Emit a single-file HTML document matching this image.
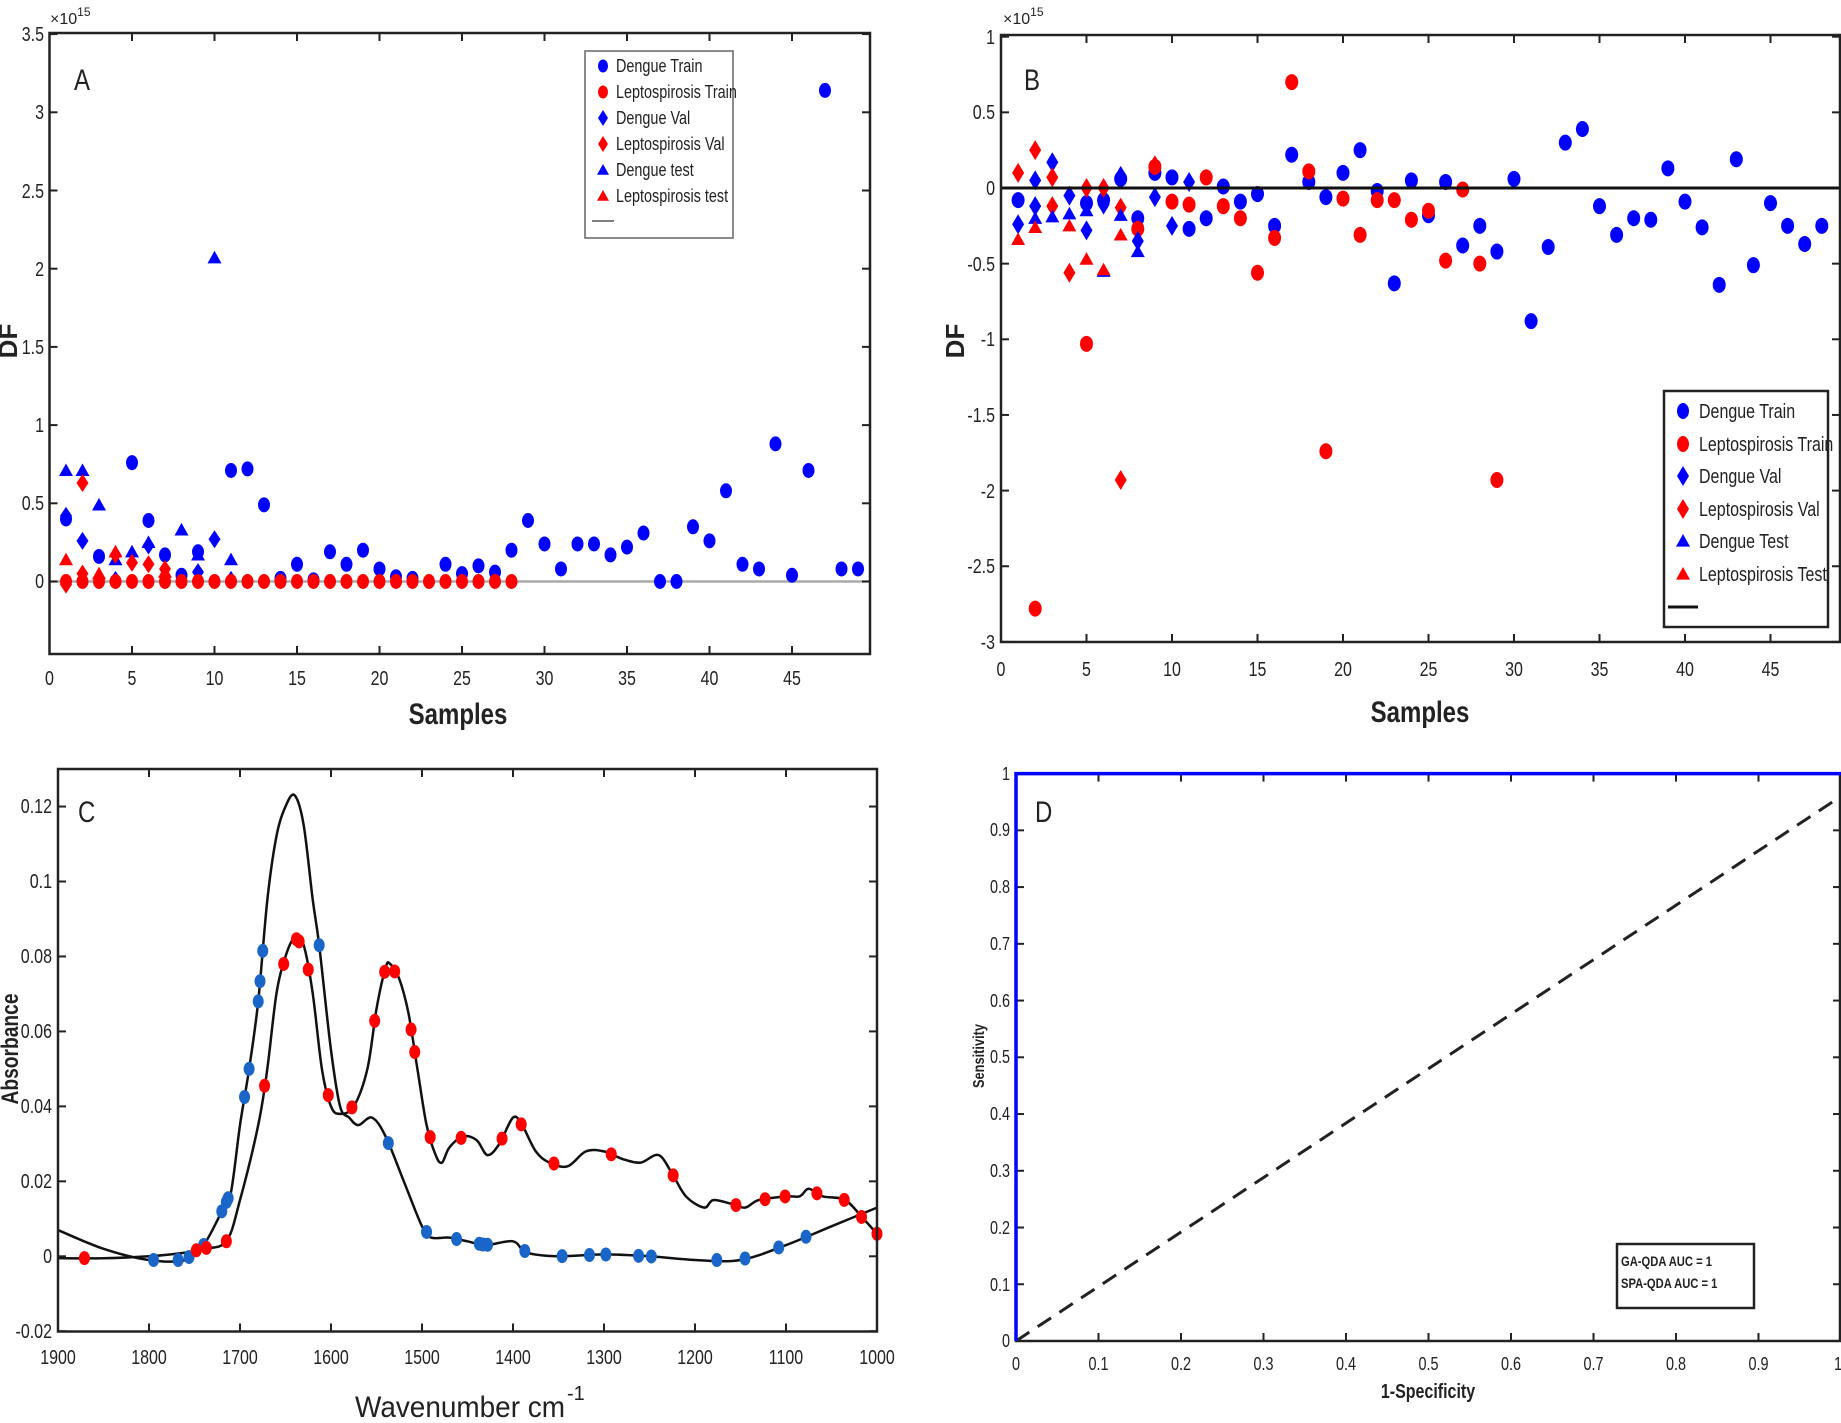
<!DOCTYPE html>
<html><head><meta charset="utf-8">
<style>
html,body{margin:0;padding:0;background:#fff}
svg{display:block}
text{font-family:"Liberation Sans Narrow","Liberation Sans",Arial,sans-serif;fill:#222}
.t{font-size:20px}
.ts{font-size:18px}
.lg{font-size:18px}
.lgb{font-size:20px}
.ttl{font-size:30px;font-weight:bold}
</style></head><body>
<svg id="s" width="1841" height="1423" viewBox="0 0 1841 1423" xmlns="http://www.w3.org/2000/svg">
<rect width="1841" height="1423" fill="#fff"/>
<g id="g"></g>
<!-- Panel A texts -->
<text x="50" y="24" style="font-size:16px">×10<tspan dy="-8" style="font-size:12px">15</tspan></text>
<text class="c" x="74" y="90" style="font-size:30px">A</text>
<g class="t" text-anchor="end">
<text class="c" x="44" y="588">0</text><text class="c" x="44" y="510">0.5</text><text class="c" x="44" y="432">1</text><text class="c" x="44" y="354">1.5</text><text class="c" x="44" y="276">2</text><text class="c" x="44" y="198">2.5</text><text class="c" x="44" y="119">3</text><text class="c" x="44" y="41">3.5</text>
</g>
<g class="t" text-anchor="middle">
<text class="c" x="49.5" y="685">0</text><text class="c" x="132" y="685">5</text><text class="c" x="214.5" y="685">10</text><text class="c" x="297" y="685">15</text><text class="c" x="379.5" y="685">20</text><text class="c" x="462" y="685">25</text><text class="c" x="544.5" y="685">30</text><text class="c" x="627" y="685">35</text><text class="c" x="709.5" y="685">40</text><text class="c" x="792" y="685">45</text>
</g>
<text class="ttl c" x="458" y="724" text-anchor="middle">Samples</text>
<text transform="translate(17,341) rotate(-90)" text-anchor="middle" style="font-family:'Liberation Sans',sans-serif;font-size:26px;font-weight:bold">DF</text>
<g class="lg">
<text class="c" x="616" y="72">Dengue Train</text><text class="c" x="616" y="98">Leptospirosis Train</text><text class="c" x="616" y="124">Dengue Val</text><text class="c" x="616" y="150">Leptospirosis Val</text><text class="c" x="616" y="176">Dengue test</text><text class="c" x="616" y="202">Leptospirosis test</text>
</g>
<!-- Panel B texts -->
<text x="1003" y="24" style="font-size:16px">×10<tspan dy="-8" style="font-size:12px">15</tspan></text>
<text class="c" x="1024" y="90" style="font-size:30px">B</text>
<g class="t" text-anchor="end">
<text class="c" x="995" y="44">1</text><text class="c" x="995" y="119">0.5</text><text class="c" x="995" y="195">0</text><text class="c" x="995" y="271">-0.5</text><text class="c" x="995" y="346">-1</text><text class="c" x="995" y="422">-1.5</text><text class="c" x="995" y="498">-2</text><text class="c" x="995" y="573">-2.5</text><text class="c" x="995" y="649">-3</text>
</g>
<g class="t" text-anchor="middle">
<text class="c" x="1001" y="676">0</text><text class="c" x="1086.5" y="676">5</text><text class="c" x="1172" y="676">10</text><text class="c" x="1257.5" y="676">15</text><text class="c" x="1343" y="676">20</text><text class="c" x="1428.5" y="676">25</text><text class="c" x="1514" y="676">30</text><text class="c" x="1599.5" y="676">35</text><text class="c" x="1685" y="676">40</text><text class="c" x="1770.5" y="676">45</text>
</g>
<text class="ttl c" x="1420" y="722" text-anchor="middle">Samples</text>
<text transform="translate(964,341) rotate(-90)" text-anchor="middle" style="font-family:'Liberation Sans',sans-serif;font-size:26px;font-weight:bold">DF</text>
<g class="lgb">
<text class="c" x="1699" y="418">Dengue Train</text><text class="c" x="1699" y="451">Leptospirosis Train</text><text class="c" x="1699" y="483">Dengue Val</text><text class="c" x="1699" y="516">Leptospirosis Val</text><text class="c" x="1699" y="548">Dengue Test</text><text class="c" x="1699" y="581">Leptospirosis Test</text>
</g>
<!-- Panel C texts -->
<text class="c" x="78" y="822" style="font-size:30px">C</text>
<g class="t" text-anchor="end">
<text class="c" x="52" y="813">0.12</text><text class="c" x="52" y="888">0.1</text><text class="c" x="52" y="963">0.08</text><text class="c" x="52" y="1038">0.06</text><text class="c" x="52" y="1113">0.04</text><text class="c" x="52" y="1188">0.02</text><text class="c" x="52" y="1263">0</text><text class="c" x="52" y="1338">-0.02</text>
</g>
<g class="t" text-anchor="middle">
<text class="c" x="58" y="1364">1900</text><text class="c" x="149" y="1364">1800</text><text class="c" x="240" y="1364">1700</text><text class="c" x="331" y="1364">1600</text><text class="c" x="422" y="1364">1500</text><text class="c" x="513" y="1364">1400</text><text class="c" x="604" y="1364">1300</text><text class="c" x="695" y="1364">1200</text><text class="c" x="786" y="1364">1100</text><text class="c" x="877" y="1364">1000</text>
</g>
<text x="460" y="1417" text-anchor="middle" style="font-size:30px" textLength="210" lengthAdjust="spacingAndGlyphs">Wavenumber cm</text>
<text x="567" y="1400" style="font-size:20px">-1</text>
<text class="c" transform="translate(18,1049) rotate(-90)" text-anchor="middle" style="font-family:'Liberation Sans',sans-serif;font-size:24px;font-weight:bold">Absorbance</text>
<!-- Panel D texts -->
<text class="c" x="1035" y="822" style="font-size:30px">D</text>
<g class="ts" text-anchor="end">
<text class="c" x="1010" y="1347">0</text><text class="c" x="1010" y="1291">0.1</text><text class="c" x="1010" y="1234">0.2</text><text class="c" x="1010" y="1177">0.3</text><text class="c" x="1010" y="1120">0.4</text><text class="c" x="1010" y="1063">0.5</text><text class="c" x="1010" y="1007">0.6</text><text class="c" x="1010" y="950">0.7</text><text class="c" x="1010" y="893">0.8</text><text class="c" x="1010" y="836">0.9</text><text class="c" x="1010" y="780">1</text>
</g>
<g class="ts" text-anchor="middle">
<text class="c" x="1016" y="1370">0</text><text class="c" x="1098.5" y="1370">0.1</text><text class="c" x="1181" y="1370">0.2</text><text class="c" x="1263.5" y="1370">0.3</text><text class="c" x="1346" y="1370">0.4</text><text class="c" x="1428.5" y="1370">0.5</text><text class="c" x="1511" y="1370">0.6</text><text class="c" x="1593.5" y="1370">0.7</text><text class="c" x="1676" y="1370">0.8</text><text class="c" x="1758.5" y="1370">0.9</text><text class="c" x="1838" y="1370">1</text>
</g>
<text class="c" x="1428" y="1398" text-anchor="middle" style="font-size:20px;font-weight:bold">1-Specificity</text>
<text class="c" transform="translate(984,1056) rotate(-90)" text-anchor="middle" style="font-family:'Liberation Sans',sans-serif;font-size:16px;font-weight:bold">Sensitivity</text>
<text class="c" x="1621" y="1266" style="font-size:14px;font-weight:bold">GA-QDA   AUC  = 1</text>
<text class="c" x="1621" y="1288" style="font-size:14px;font-weight:bold">SPA-QDA AUC =  1</text>
</svg>
<script>
var g=document.getElementById('g'),NS='http://www.w3.org/2000/svg';
function el(t,a){var e=document.createElementNS(NS,t);for(var k in a)e.setAttribute(k,a[k]);g.appendChild(e);return e;}
var B='#0000ff',R='#ff0000';
function circ(x,y,c,rx,ry){el('ellipse',{cx:x,cy:y,rx:rx||6,ry:ry||7.5,fill:c});}
function dia(x,y,c,w,h){w=w||6;h=h||9;el('polygon',{points:(x)+','+(y-h)+' '+(x+w)+','+y+' '+x+','+(y+h)+' '+(x-w)+','+y,fill:c});}
function tri(x,y,c,s){s=s||7;el('polygon',{points:x+','+(y-s)+' '+(x+s)+','+(y+s*0.8)+' '+(x-s)+','+(y+s*0.8),fill:c});}
function frame(x0,y0,x1,y1,col){el('rect',{x:x0,y:y0,width:x1-x0,height:y1-y0,fill:'none',stroke:col||'#222','stroke-width':2.5});}
function ticks(xs,ys,x0,y0,x1,y1){xs.forEach(function(x){el('line',{x1:x,y1:y1,x2:x,y2:y1-8,stroke:'#222','stroke-width':2});el('line',{x1:x,y1:y0,x2:x,y2:y0+8,stroke:'#222','stroke-width':2});});
ys.forEach(function(y){el('line',{x1:x0,y1:y,x2:x0+8,y2:y,stroke:'#222','stroke-width':2});el('line',{x1:x1,y1:y,x2:x1-8,y2:y,stroke:'#222','stroke-width':2});});}
function rng(a,b,s){var r=[];for(var v=a;v<=b+1e-9;v+=s)r.push(v);return r;}
var AX=function(i){return 49.5+16.5*i},AY=function(v){return 581.5-156.4*v};
el('line',{x1:50,y1:AY(0),x2:870,y2:AY(0),stroke:'#aaa','stroke-width':2.5});
ticks(rng(0,45,5).map(AX),rng(0,3.5,0.5).map(AY),49.5,33,870,654);
[[1,0.4],[5,0.76],[6,0.39],[7,0.17],[3,0.16],[9,0.19],[11,0.71],[12,0.72],[13,0.49],[15,0.11],[17,0.19],[18,0.11],[19,0.2],[20,0.08],[21,0.03],[22,0.02],[24,0.11],[25,0.05],[26,0.1],[27,0.06],[28,0.2],[29,0.39],[30,0.24],[31,0.08],[32,0.24],[33,0.24],[34,0.17],[35,0.22],[36,0.31],[37,0],[38,0],[39,0.35],[40,0.26],[41,0.58],[42,0.11],[43,0.08],[44,0.88],[45,0.04],[46,0.71],[47,3.14],[48,0.08],[49,0.08],[8,0.04],[14,0.02],[16,0.01]].forEach(function(p){circ(AX(p[0]),AY(p[1]),B)});
[[1,0.42],[2,0.26],[4,0.01],[6,0.23],[9,0.06],[10,0.27],[11,0.01]].forEach(function(p){dia(AX(p[0]),AY(p[1]),B)});
[[1,0.71],[2,0.71],[3,0.49],[4,0.14],[5,0.19],[6,0.25],[8,0.33],[9,0.17],[10,2.07],[11,0.14]].forEach(function(p){tri(AX(p[0]),AY(p[1]),B)});
[[2,0.63],[4,0.17],[5,0.12],[6,0.11],[7,0.08],[1,-0.02],[2,0.05]].forEach(function(p){dia(AX(p[0]),AY(p[1]),R)});
[[1,0.14],[4,0.19],[3,0.05],[7,0.06]].forEach(function(p){tri(AX(p[0]),AY(p[1]),R)});
for(var i=1;i<=28;i++)circ(AX(i),AY(0),R);
frame(49.5,33,870,654);
el('rect',{x:585,y:51,width:148,height:187,fill:'#fff',stroke:'#666','stroke-width':1.5});
circ(603,66,B,5,6.5);circ(603,92,R,5,6.5);dia(603,118,B,5,8);dia(603,144,R,5,8);tri(603,170,B,6);tri(603,196,R,6);
el('line',{x1:592,y1:221,x2:614,y2:221,stroke:'#555','stroke-width':1.5});
var BX=function(i){return 1001+17.1*i},BY=function(v){return 188-151.3*v};
ticks(rng(0,45,5).map(BX),rng(-3,1,0.5).map(BY),1001,35,1840,642);
[[1,-0.08],[6,-0.08],[9,0.1],[10,0.07],[11,-0.27],[12,-0.2],[13,0.01],[14,-0.09],[15,-0.04],[16,-0.25],[17,0.22],[18,0.04],[19,-0.06],[20,0.1],[21,0.25],[22,-0.02],[23,-0.63],[24,0.05],[25,-0.18],[26,0.04],[27,-0.38],[28,-0.25],[29,-0.42],[30,0.06],[31,-0.88],[32,-0.39],[33,0.3],[34,0.39],[35,-0.12],[36,-0.31],[37,-0.2],[38,-0.21],[39,0.13],[40,-0.09],[41,-0.26],[42,-0.64],[43,0.19],[44,-0.51],[45,-0.1],[46,-0.25],[47,-0.37],[48,-0.25],[8,-0.2],[7,0.06],[5,-0.1]].forEach(function(p){circ(BX(p[0]),BY(p[1]),B,6.5,8)});
[[2,-2.78],[5,-1.03],[9,0.14],[10,-0.09],[12,0.07],[13,-0.12],[14,-0.2],[15,-0.56],[16,-0.33],[17,0.7],[18,0.11],[19,-1.74],[20,-0.07],[21,-0.31],[22,-0.08],[23,-0.08],[24,-0.21],[25,-0.15],[26,-0.48],[27,-0.01],[28,-0.5],[29,-1.93],[11,-0.11],[8,-0.27]].forEach(function(p){circ(BX(p[0]),BY(p[1]),R,6.5,8)});
[[1,-0.24],[2,0.05],[3,0.17],[4,-0.05],[5,-0.28],[6,-0.11],[7,0.08],[9,-0.06],[10,-0.25],[11,0.04],[8,-0.35],[2,-0.12]].forEach(function(p){dia(BX(p[0]),BY(p[1]),B,6,10)});
[[1,0.1],[2,0.25],[3,0.07],[4,-0.56],[5,0],[6,0],[7,-1.93],[7,-0.13],[9,0.15],[3,-0.12]].forEach(function(p){dia(BX(p[0]),BY(p[1]),R,6,10)});
[[2,-0.2],[3,-0.19],[4,-0.17],[7,-0.18],[8,-0.42],[6,-0.55],[5,-0.15]].forEach(function(p){tri(BX(p[0]),BY(p[1]),B)});
[[1,-0.34],[2,-0.26],[4,-0.25],[5,-0.47],[6,-0.54],[7,-0.31]].forEach(function(p){tri(BX(p[0]),BY(p[1]),R)});
el('line',{x1:1001,y1:BY(0),x2:1840,y2:BY(0),stroke:'#111','stroke-width':3});
frame(1001,35,1840,642);
el('rect',{x:1664,y:391,width:164,height:236,fill:'#fff',stroke:'#222','stroke-width':2.5});
circ(1683,411,B,6,8);circ(1683,444,R,6,8);dia(1683,476,B,6,10);dia(1683,509,R,6,10);tri(1683,541,B,7);tri(1683,574,R,7);
el('line',{x1:1668,y1:607,x2:1698,y2:607,stroke:'#111','stroke-width':3});
var CX=function(w){return 58+(1900-w)*0.91},CY=function(a){return 1256.3-3748*a};
ticks(rng(0,9,1).map(function(k){return CX(1900-100*k)}),rng(-0.02,0.12,0.02).map(CY),58,769,877,1331.5);
var c1=[[1900,0.007],[1850,0.002],[1800,-0.001],[1760,-0.001],[1740,0.003],[1720,0.012],[1710,0.017],[1700,0.035],[1690,0.05],[1680,0.068],[1670,0.095],[1660,0.112],[1650,0.12],[1640,0.123],[1630,0.115],[1620,0.095],[1613,0.083],[1600,0.055],[1590,0.04],[1580,0.037],[1570,0.035],[1555,0.037],[1540,0.032],[1520,0.02],[1500,0.008],[1490,0.005],[1470,0.005],[1450,0.004],[1430,0.003],[1400,0.004],[1385,0.001],[1350,0],[1300,0.0005],[1250,0],[1200,-0.001],[1150,-0.001],[1100,0.003],[1050,0.008],[1000,0.013]];
var c2=[[1900,-0.0005],[1850,-0.0005],[1800,0],[1760,0.001],[1740,0.002],[1715,0.004],[1700,0.015],[1680,0.035],[1670,0.05],[1660,0.07],[1650,0.08],[1640,0.085],[1630,0.083],[1620,0.07],[1610,0.05],[1600,0.04],[1590,0.038],[1575,0.04],[1560,0.05],[1550,0.066],[1540,0.077],[1535,0.078],[1525,0.074],[1515,0.065],[1505,0.05],[1495,0.035],[1485,0.027],[1478,0.025],[1470,0.029],[1455,0.032],[1440,0.031],[1428,0.027],[1415,0.03],[1400,0.037],[1390,0.035],[1375,0.028],[1360,0.025],[1340,0.024],[1320,0.028],[1300,0.028],[1280,0.026],[1260,0.025],[1240,0.027],[1225,0.022],[1210,0.016],[1190,0.013],[1180,0.015],[1160,0.014],[1145,0.013],[1130,0.015],[1100,0.016],[1085,0.016],[1075,0.018],[1060,0.016],[1035,0.015],[1015,0.01],[1000,0.006]];
function smooth(c){var pts=c.map(function(p){return [CX(p[0]),CY(p[1])]});var d='M'+pts[0][0]+','+pts[0][1];
for(var i=0;i<pts.length-1;i++){var p0=pts[i-1]||pts[i],p1=pts[i],p2=pts[i+1],p3=pts[i+2]||p2;
d+='C'+(p1[0]+(p2[0]-p0[0])/6).toFixed(1)+','+(p1[1]+(p2[1]-p0[1])/6).toFixed(1)+' '+(p2[0]-(p3[0]-p1[0])/6).toFixed(1)+','+(p2[1]-(p3[1]-p1[1])/6).toFixed(1)+' '+p2[0].toFixed(1)+','+p2[1].toFixed(1);}
el('path',{d:d,fill:'none',stroke:'#111','stroke-width':2.5,'stroke-linejoin':'round'});}
function interp(c,w){for(var i=0;i<c.length-1;i++){var a=c[i],b=c[i+1];if(w<=a[0]&&w>=b[0]){var t=(a[0]-w)/(a[0]-b[0]);return a[1]+t*(b[1]-a[1]);}}return c[c.length-1][1];}
smooth(c1);smooth(c2);
[1795,1768,1756,1740,1720,1715,1713,1695,1690,1680,1678,1675,1613,1537,1495,1462,1437,1433,1428,1387,1346,1316,1298,1262,1248,1176,1145,1108,1078].forEach(function(w){circ(CX(w),CY(interp(c1,w)),'#1a66c8',5.5,7)});
[1871,1748,1737,1715,1673,1652,1638,1635,1625,1603,1577,1552,1541,1530,1512,1508,1491,1457,1412,1391,1355,1292,1224,1155,1123,1101,1066,1036,1017,1000].forEach(function(w){circ(CX(w),CY(interp(c2,w)),R,5.5,7)});
frame(58,769,877,1331.5);
var DX=function(x){return 1016+825*x},DY=function(y){return 1341-567.4*y};
ticks(rng(0,1,0.1).map(DX),rng(0,1,0.1).map(DY),1016,773.6,1841,1341);
frame(1016,773.6,1840,1341);
el('line',{x1:DX(0),y1:DY(0),x2:DX(1),y2:DY(0.96),stroke:'#222','stroke-width':3,'stroke-dasharray':'16,10'});
el('polyline',{points:'1016,1341 1016,773.6 1841,773.6',fill:'none',stroke:'#0000ff','stroke-width':3.5});
el('rect',{x:1617,y:1244,width:137,height:64,fill:'#fff',stroke:'#222','stroke-width':2.5});
// condense text to mimic narrow font
var ts=document.querySelectorAll('text.c');
for(var j=0;j<ts.length;j++){var t=ts[j];try{var L=t.getComputedTextLength();if(L>0){t.setAttribute('textLength',(L*0.8).toFixed(1));t.setAttribute('lengthAdjust','spacingAndGlyphs');}}catch(e){}}
</script>
</body></html>
